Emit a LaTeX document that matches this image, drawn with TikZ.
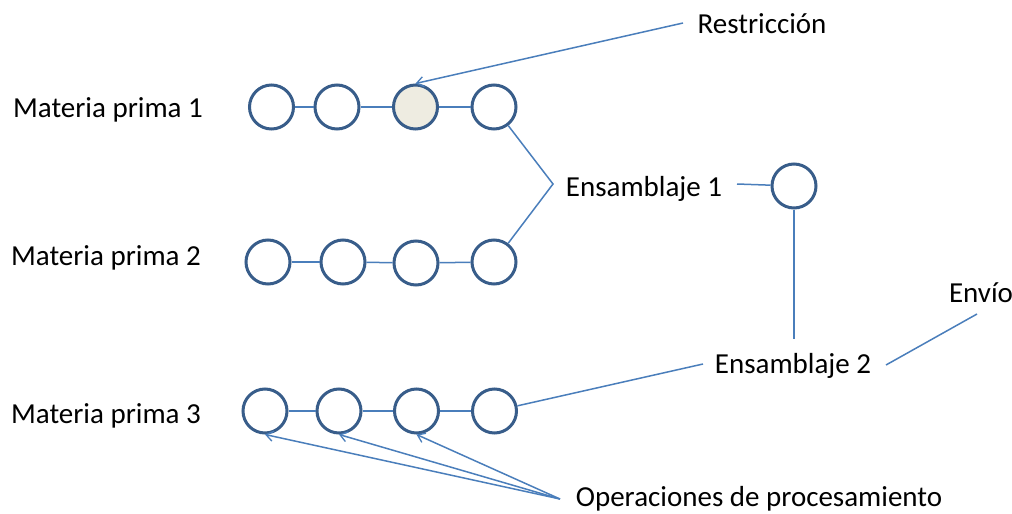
\documentclass[tikz,border=0pt]{standalone}
\usepackage{fontspec}
\setmainfont{Carlito}
\usetikzlibrary{arrows.meta}
\definecolor{ringblue}{HTML}{385D8A}
\definecolor{linkblue}{HTML}{4A7EBB}
\definecolor{bottleneck}{HTML}{EEECE1}
\tikzset{
  station/.style={circle, draw=ringblue, line width=3pt, minimum size=44pt, inner sep=0pt, fill=white},
  lbl/.style={inner sep=0pt, anchor=base, font=\fontsize{29}{34}\selectfont},
  link/.style={draw=linkblue, line width=1.5pt},
  pointer/.style={link, -{Straight Barb[length=7pt,width=10pt,line width=1.3pt]}}
}
\begin{document}
\begin{tikzpicture}[x=1pt,y=-1pt]
\useasboundingbox (0,0) rectangle (1012,514);

% labels
\node[lbl] (mp1) at (108,117) {Materia prima 1};
\node[lbl] (mp2) at (106,265) {Materia prima 2};
\node[lbl] (mp3) at (106,423) {Materia prima 3};
\node[lbl] (rest) at (762,33) {Restricción};
\node[lbl] (ens1) at (644,196) {Ensamblaje 1};
\node[lbl] (ens2) at (793,373) {Ensamblaje 2};
\node[lbl] (envio) at (981,302) {Envío};
\node[lbl] (ops) at (759,506) {Operaciones de procesamiento};

% processing stations
\node[station] (a1) at (271.5,107) {};
\node[station] (a2) at (337,107) {};
\node[station, fill=bottleneck] (a3) at (415.5,107) {};
\node[station] (a4) at (494,107) {};
\node[station] (b1) at (268,262) {};
\node[station] (b2) at (343,262) {};
\node[station] (b3) at (416,263) {};
\node[station] (b4) at (494,262) {};
\node[station] (c1) at (265,411) {};
\node[station] (c2) at (339,411) {};
\node[station] (c3) at (416.5,411) {};
\node[station] (c4) at (494.5,411) {};
\node[station] (s1) at (794,186) {};

% connection points
\coordinate (join) at (553,184);
\coordinate (e1out) at (737,184);
\coordinate (e2top) at (794,339);
\coordinate (e2in) at (703,364);
\coordinate (e2out) at (886,365);
\coordinate (envin) at (977,314);
\coordinate (restout) at (683,23);
\coordinate (opsout) at (560,499);

% lines
\draw[link] (a1) -- (a2);
\draw[link] (a2) -- (a3);
\draw[link] (a3) -- (a4);
\draw[link] (b1) -- (b2);
\draw[link] (b2) -- (b3);
\draw[link] (b3) -- (b4);
\draw[link] (c1) -- (c2);
\draw[link] (c2) -- (c3);
\draw[link] (c3) -- (c4);
\draw[link] (a4) -- (join) -- (b4);
\draw[link] (e1out) -- (s1);
\draw[link] (s1) -- (e2top);
\draw[link] (c4) -- (e2in);
\draw[link] (e2out) -- (envin);
\draw[pointer] (restout) -- (a3.north);
\draw[pointer] (opsout) -- (c1.south);
\draw[pointer] (opsout) -- (c2.south);
\draw[pointer] (opsout) -- (c3.south);
\end{tikzpicture}
\end{document}
